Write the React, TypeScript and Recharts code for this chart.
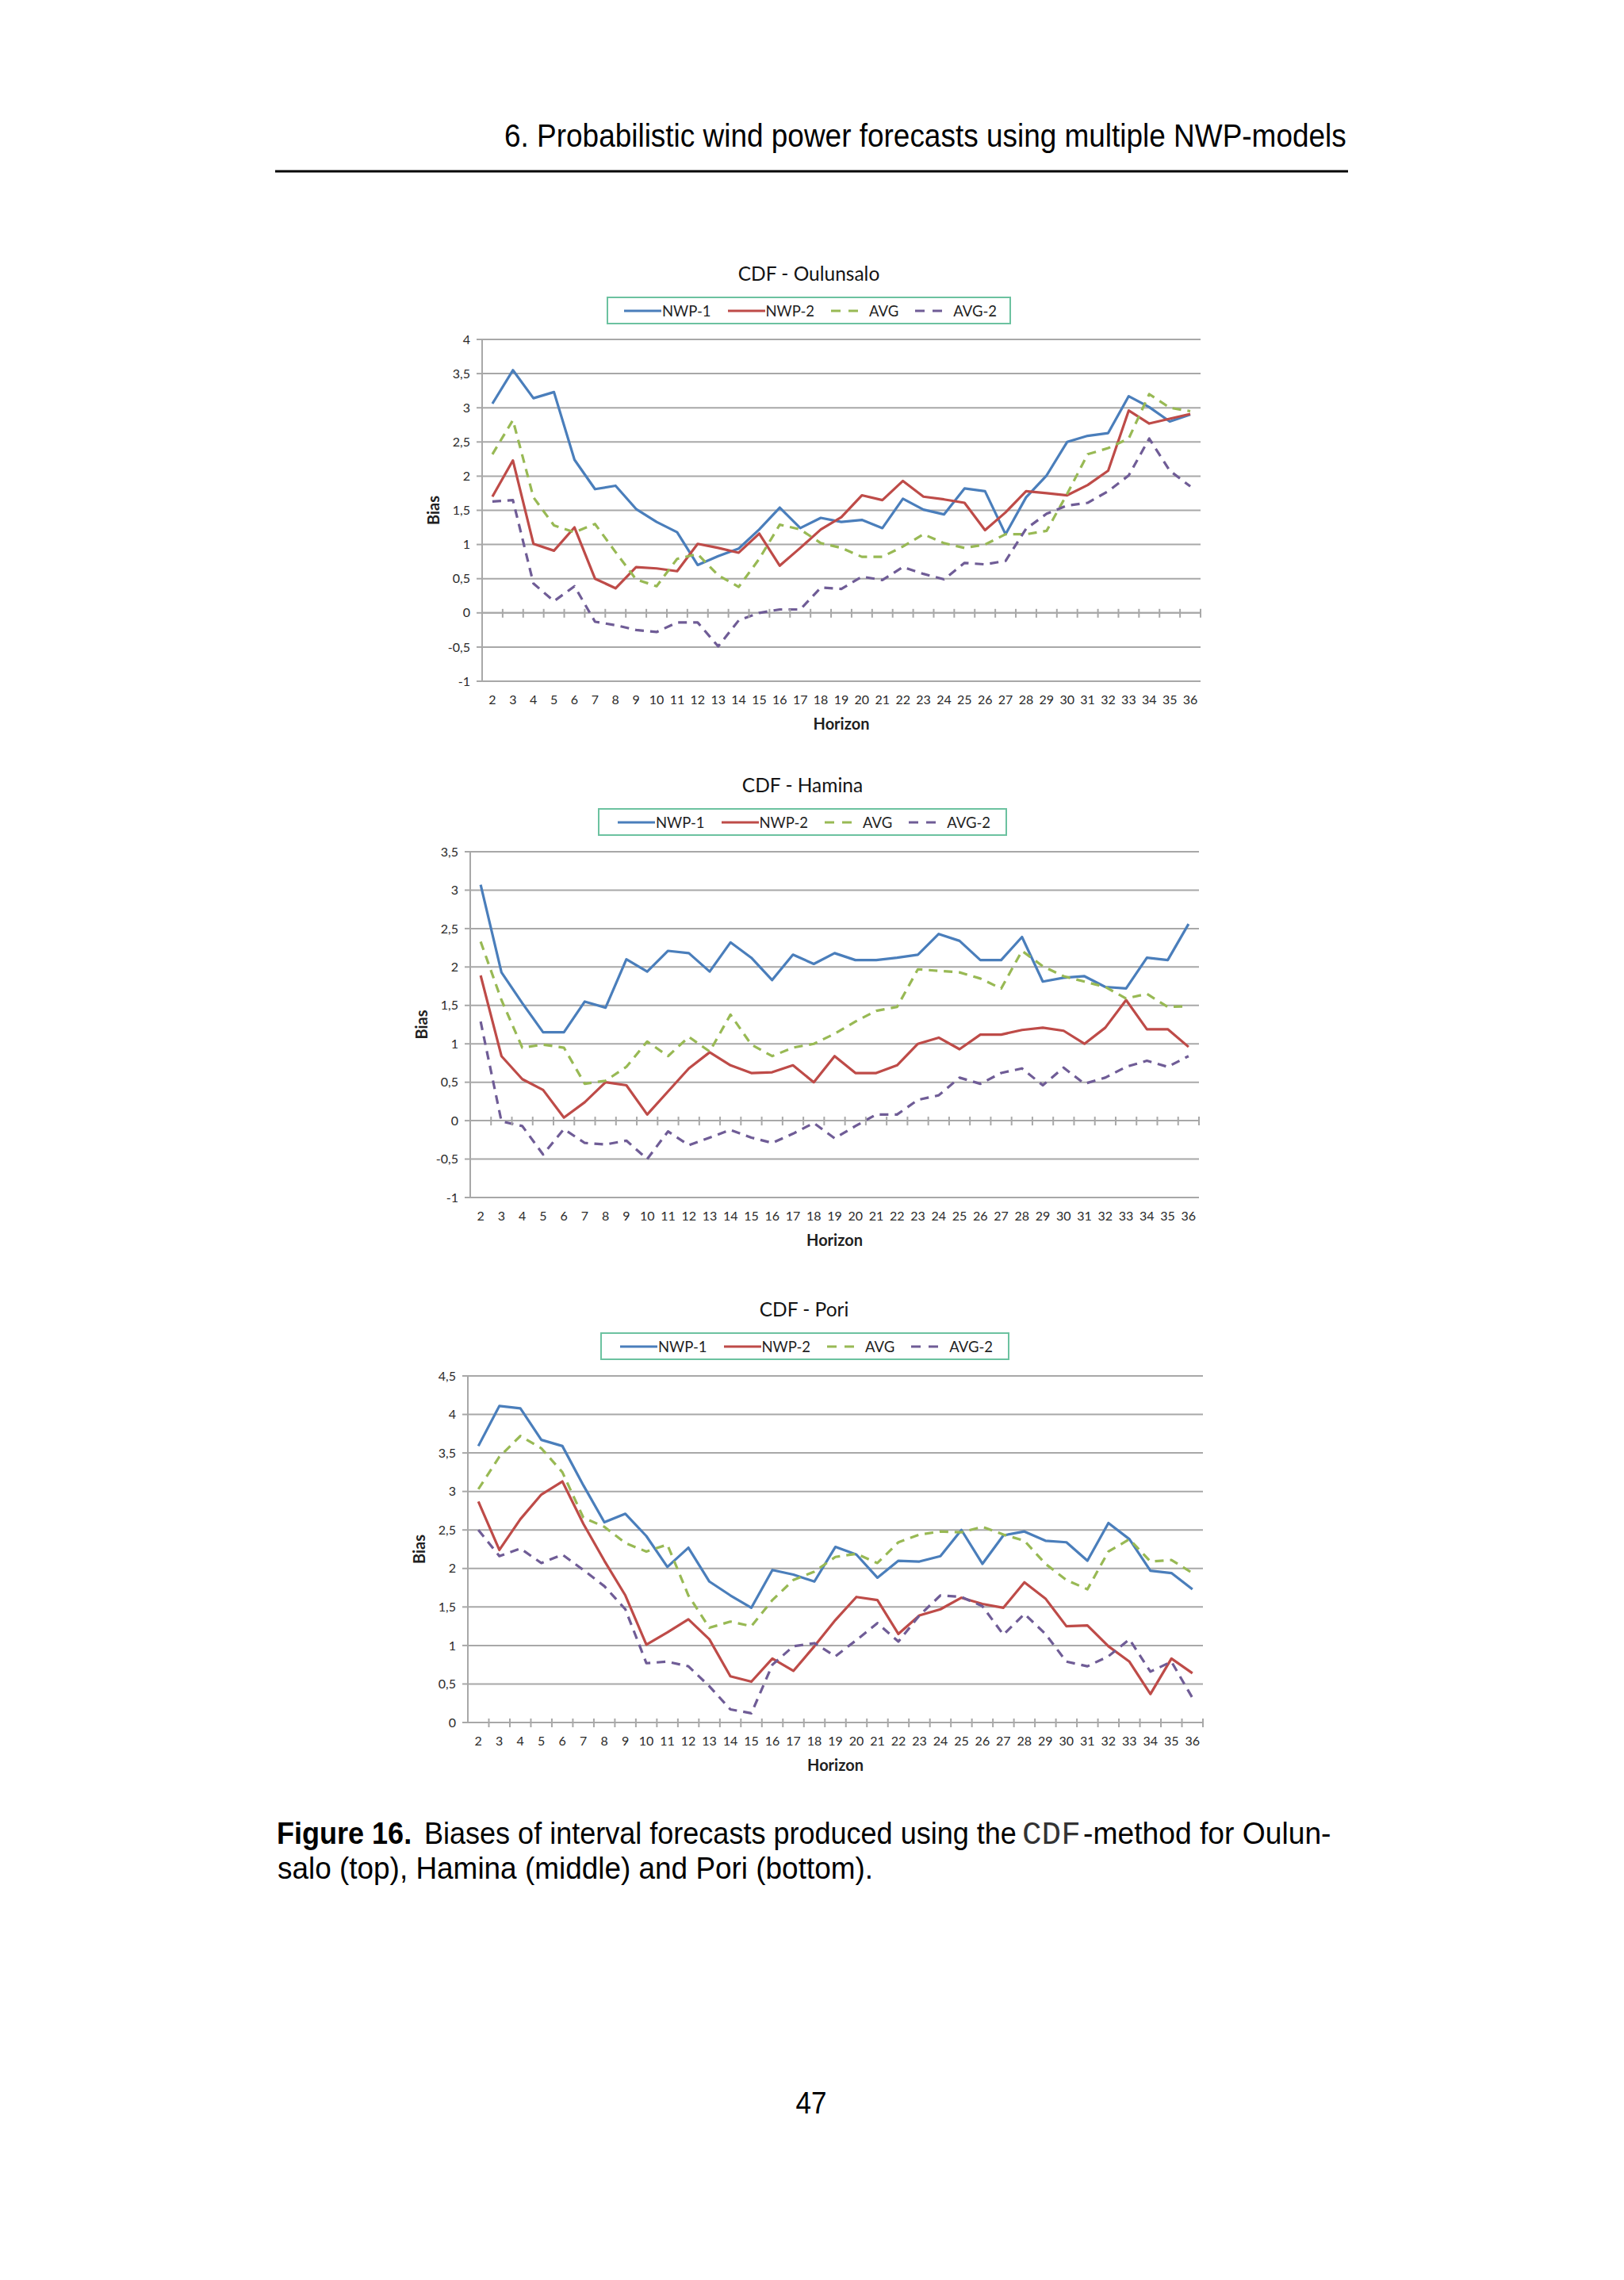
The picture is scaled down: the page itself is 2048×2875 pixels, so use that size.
import React from 'react';
import { LineChart, Line, XAxis, YAxis, CartesianGrid, ReferenceLine, ReferenceDot, Label } from 'recharts';

// forecast horizons (x categories)
const horizons = [2, 3, 4, 5, 6, 7, 8, 9, 10, 11, 12, 13, 14, 15, 16, 17, 18, 19, 20, 21, 22, 23, 24, 25, 26, 27, 28, 29, 30, 31, 32, 33, 34, 35, 36];

// CDF - Oulunsalo
const oulunsaloNwp1 = [3.06, 3.55, 3.14, 3.23, 2.24, 1.81, 1.86, 1.52, 1.33, 1.18, 0.7, 0.83, 0.94, 1.22, 1.54, 1.24, 1.39, 1.33, 1.36, 1.24, 1.67, 1.51, 1.44, 1.82, 1.78, 1.15, 1.69, 2.01, 2.5, 2.59, 2.63, 3.17, 3.01, 2.8, 2.9];
const oulunsaloNwp2 = [1.7, 2.23, 1.01, 0.91, 1.25, 0.5, 0.36, 0.67, 0.65, 0.61, 1.01, 0.95, 0.88, 1.16, 0.69, 0.95, 1.22, 1.4, 1.72, 1.65, 1.93, 1.7, 1.66, 1.61, 1.21, 1.47, 1.78, 1.75, 1.72, 1.87, 2.08, 2.96, 2.77, 2.84, 2.91];
const oulunsaloAvg = [2.32, 2.82, 1.69, 1.28, 1.18, 1.3, 0.89, 0.49, 0.39, 0.79, 0.86, 0.55, 0.38, 0.79, 1.29, 1.22, 1.02, 0.95, 0.82, 0.82, 0.97, 1.15, 1.02, 0.95, 1.0, 1.15, 1.15, 1.2, 1.74, 2.32, 2.41, 2.55, 3.2, 3.0, 2.95];
const oulunsaloAvg2 = [1.63, 1.65, 0.43, 0.17, 0.39, -0.13, -0.18, -0.25, -0.28, -0.14, -0.14, -0.49, -0.11, 0.0, 0.05, 0.05, 0.37, 0.35, 0.53, 0.48, 0.67, 0.57, 0.49, 0.73, 0.71, 0.76, 1.23, 1.45, 1.57, 1.61, 1.78, 2.01, 2.55, 2.08, 1.85];
const oulunsaloTicks = [-1, -0.5, 0, 0.5, 1, 1.5, 2, 2.5, 3, 3.5, 4];

// CDF - Hamina
const haminaNwp1 = [3.07, 1.93, 1.53, 1.15, 1.15, 1.55, 1.47, 2.1, 1.94, 2.21, 2.18, 1.94, 2.32, 2.12, 1.83, 2.16, 2.04, 2.18, 2.09, 2.09, 2.12, 2.16, 2.43, 2.34, 2.09, 2.09, 2.39, 1.81, 1.86, 1.88, 1.74, 1.72, 2.12, 2.09, 2.56];
const haminaNwp2 = [1.89, 0.84, 0.54, 0.4, 0.04, 0.24, 0.5, 0.46, 0.08, 0.38, 0.68, 0.89, 0.72, 0.62, 0.63, 0.72, 0.5, 0.84, 0.62, 0.62, 0.72, 1.0, 1.08, 0.93, 1.12, 1.12, 1.18, 1.21, 1.17, 1.0, 1.21, 1.57, 1.19, 1.19, 0.96];
const haminaAvg = [2.33, 1.57, 0.95, 0.99, 0.95, 0.48, 0.52, 0.7, 1.03, 0.84, 1.09, 0.9, 1.38, 0.99, 0.84, 0.95, 1.0, 1.13, 1.29, 1.43, 1.48, 1.97, 1.95, 1.93, 1.85, 1.72, 2.21, 2.01, 1.88, 1.81, 1.74, 1.59, 1.65, 1.48, 1.49];
const haminaAvg2 = [1.29, -0.01, -0.07, -0.44, -0.11, -0.29, -0.31, -0.26, -0.5, -0.14, -0.32, -0.22, -0.12, -0.22, -0.29, -0.17, -0.03, -0.23, -0.07, 0.08, 0.08, 0.27, 0.33, 0.56, 0.48, 0.62, 0.68, 0.46, 0.69, 0.48, 0.56, 0.7, 0.78, 0.7, 0.84];
const haminaTicks = [-1, -0.5, 0, 0.5, 1, 1.5, 2, 2.5, 3, 3.5];

// CDF - Pori
const poriNwp1 = [3.59, 4.11, 4.08, 3.67, 3.59, 3.08, 2.6, 2.71, 2.42, 2.02, 2.27, 1.83, 1.65, 1.49, 1.98, 1.92, 1.83, 2.28, 2.18, 1.88, 2.1, 2.09, 2.16, 2.5, 2.06, 2.43, 2.48, 2.36, 2.34, 2.1, 2.59, 2.38, 1.97, 1.94, 1.73];
const poriNwp2 = [2.87, 2.24, 2.64, 2.96, 3.13, 2.58, 2.1, 1.65, 1.01, 1.17, 1.34, 1.08, 0.6, 0.53, 0.83, 0.67, 0.99, 1.33, 1.63, 1.59, 1.15, 1.39, 1.47, 1.62, 1.54, 1.49, 1.82, 1.61, 1.25, 1.26, 0.99, 0.79, 0.37, 0.83, 0.64];
const poriAvg = [3.03, 3.45, 3.72, 3.56, 3.25, 2.66, 2.54, 2.33, 2.22, 2.31, 1.65, 1.23, 1.31, 1.25, 1.59, 1.85, 1.96, 2.15, 2.19, 2.07, 2.34, 2.44, 2.48, 2.47, 2.54, 2.44, 2.36, 2.06, 1.85, 1.73, 2.22, 2.38, 2.09, 2.11, 1.94];
const poriAvg2 = [2.5, 2.16, 2.26, 2.07, 2.18, 1.98, 1.77, 1.47, 0.77, 0.79, 0.73, 0.47, 0.17, 0.12, 0.75, 0.99, 1.03, 0.86, 1.07, 1.29, 1.05, 1.39, 1.65, 1.63, 1.51, 1.14, 1.41, 1.15, 0.79, 0.73, 0.86, 1.08, 0.66, 0.79, 0.32];
const poriTicks = [0, 0.5, 1, 1.5, 2, 2.5, 3, 3.5, 4, 4.5];

const series = [
  { key: 'nwp1', name: 'NWP-1', color: '#4a7ebb', dash: undefined },
  { key: 'nwp2', name: 'NWP-2', color: '#be4b48', dash: undefined },
  { key: 'avg', name: 'AVG', color: '#98b954', dash: '11 8' },
  { key: 'avg2', name: 'AVG-2', color: '#6f5c96', dash: '11 8' },
];

const FONT = 'Lato, "Open Sans", sans-serif';
const PAGE_FONT = '"Liberation Sans", Arial, sans-serif';
const GRID = '#a8a8a8';
const SQUEEZE = 0.924; // the page font is a little narrower than Liberation Sans
const fmt = (v: number) => String(v).replace('.', ',');

const TickMark = (p: any) => (
  <line x1={p.cx} x2={p.cx} y1={p.cy - 5} y2={p.cy + 6} stroke={GRID} strokeWidth={2} />
);

const PageText = ({ x, y, size, bold = false, mono = false, anchor = 'start', squeeze = SQUEEZE, children }) => (
  <text transform={`translate(${x} ${y}) scale(${mono ? 1 : squeeze} 1)`} textAnchor={anchor}
    fontFamily={mono ? '"Liberation Mono", monospace' : PAGE_FONT} fontSize={size}
    fontWeight={bold ? 'bold' : 'normal'} fill={mono ? '#333' : '#000'}>{children}</text>
);

const Legend = ({ box }) => (
  <div
    style={{
      position: 'absolute', left: box[0], top: box[1], width: box[2] - box[0], height: box[3] - box[1],
      border: '2px solid #6cc2a0', boxSizing: 'border-box', display: 'flex', alignItems: 'center',
      justifyContent: 'center', gap: 21, fontFamily: FONT, fontSize: 18.5, color: '#1f1f1f', paddingLeft: 4,
    }}
  >
    {series.map((s) => (
      <div key={s.key} style={{ display: 'flex', alignItems: 'center' }}>
        <svg width={47} height={10}>
          <line x1={0} x2={47} y1={5} y2={5} stroke={s.color} strokeWidth={3.2}
            strokeDasharray={s.dash ? '12 10 12 100' : undefined} />
        </svg>
        <span style={{ marginLeft: 1 }}>{s.name}</span>
      </div>
    ))}
  </div>
);

const CdfChart = ({ title, nwp1, nwp2, avg, avg2, yTicks, plot, titleAt, legendBox }) => {
  const data = horizons.map((h, i) => ({ h, nwp1: nwp1[i], nwp2: nwp2[i], avg: avg[i], avg2: avg2[i] }));
  const [x0, y0, x1, y1] = plot;
  return (
    <>
      <div style={{ position: 'absolute', left: titleAt[0] - 200, top: titleAt[1] - 15, width: 400, lineHeight: '30px',
        textAlign: 'center', fontFamily: FONT, fontSize: 24.5, color: '#141414' }}>{title}</div>
      <Legend box={legendBox} />
      <div style={{ position: 'absolute', left: x0 - 140, top: y0 - 110 }}>
        <LineChart width={x1 - x0 + 200} height={y1 - y0 + 200} data={data}
          margin={{ top: 110, right: 60, bottom: 20, left: 60 }}>
          <CartesianGrid vertical={false} stroke={GRID} strokeWidth={2} />
          <XAxis dataKey="h" type="number" domain={[1.5, 36.5]} ticks={horizons} interval={0}
            axisLine={false} tickLine={false} tickSize={0} tickMargin={18} height={70}
            tick={{ fontFamily: FONT, fontSize: 16, fill: '#2a2a2a' }}>
            <Label content={({ viewBox }: any) => (
              <text x={viewBox.x + viewBox.width / 2} y={viewBox.y + 53} textAnchor="middle"
                dominantBaseline="central" fontFamily={FONT} fontSize={20} fontWeight="bold" fill="#1f1f1f">Horizon</text>
            )} />
          </XAxis>
          <YAxis type="number" domain={[yTicks[0], yTicks[yTicks.length - 1]]} ticks={yTicks} interval={0}
            width={80} axisLine={{ stroke: GRID, strokeWidth: 2 }} tickLine={{ stroke: GRID, strokeWidth: 2 }}
            tickSize={7} tickMargin={8} tickFormatter={fmt}
            tick={{ fontFamily: FONT, fontSize: 16, fill: '#2a2a2a' }}>
            <Label content={({ viewBox }: any) => (
              <text x={viewBox.x + 18} y={viewBox.y + viewBox.height / 2} textAnchor="middle"
                dominantBaseline="central" fontFamily={FONT} fontSize={20} fontWeight="bold" fill="#1f1f1f"
                transform={`rotate(-90 ${viewBox.x + 18} ${viewBox.y + viewBox.height / 2})`}>Bias</text>
            )} />
          </YAxis>
          <ReferenceLine y={0} stroke={GRID} strokeWidth={2} />
          {horizons.map((h) => (
            <ReferenceDot key={h} x={h + 0.5} y={0} ifOverflow="visible" shape={TickMark} />
          ))}
          {series.map((s) => (
            <Line key={s.key} dataKey={s.key} name={s.name} type="linear" stroke={s.color} strokeWidth={3.2}
              strokeDasharray={s.dash} dot={false} activeDot={false} isAnimationActive={false}
              strokeLinejoin="round" />
          ))}
        </LineChart>
      </div>
    </>
  );
};

export default function App() {
  return (
    <div style={{ position: 'absolute', left: 0, top: 0, width: 2048, height: 2875, background: '#fff', overflow: 'hidden' }}>
      <svg width={2048} height={2875} style={{ position: 'absolute', left: 0, top: 0 }}>
        <PageText x={636} y={185} size={40}>6. Probabilistic wind power forecasts using multiple NWP-models</PageText>
        <line x1={347} x2={1700} y1={216} y2={216} stroke="#000" strokeWidth={3} />
        <PageText x={349} y={2325} size={39} bold>Figure 16.</PageText>
        <PageText x={535} y={2325} size={39}>Biases of interval forecasts produced using the</PageText>
        <PageText x={1289} y={2325} size={41} mono>CDF</PageText>
        <PageText x={1366} y={2325} size={39} squeeze={0.955}>-method for Oulun-</PageText>
        <PageText x={350} y={2369} size={39} squeeze={0.947}>salo (top), Hamina (middle) and Pori (bottom).</PageText>
        <PageText x={1023} y={2665} size={38} anchor="middle">47</PageText>
      </svg>
      <CdfChart title="CDF - Oulunsalo" nwp1={oulunsaloNwp1} nwp2={oulunsaloNwp2} avg={oulunsaloAvg} avg2={oulunsaloAvg2}
        yTicks={oulunsaloTicks} plot={[608, 428, 1514, 859]} titleAt={[1020, 345]} legendBox={[765, 374, 1275, 409]} />
      <CdfChart title="CDF - Hamina" nwp1={haminaNwp1} nwp2={haminaNwp2} avg={haminaAvg} avg2={haminaAvg2}
        yTicks={haminaTicks} plot={[593, 1074, 1512, 1510]} titleAt={[1012, 990]} legendBox={[754, 1019, 1270, 1054]} />
      <CdfChart title="CDF - Pori" nwp1={poriNwp1} nwp2={poriNwp2} avg={poriAvg} avg2={poriAvg2}
        yTicks={poriTicks} plot={[590, 1735, 1517, 2172]} titleAt={[1014, 1651]} legendBox={[757, 1680, 1273, 1715]} />
    </div>
  );
}
